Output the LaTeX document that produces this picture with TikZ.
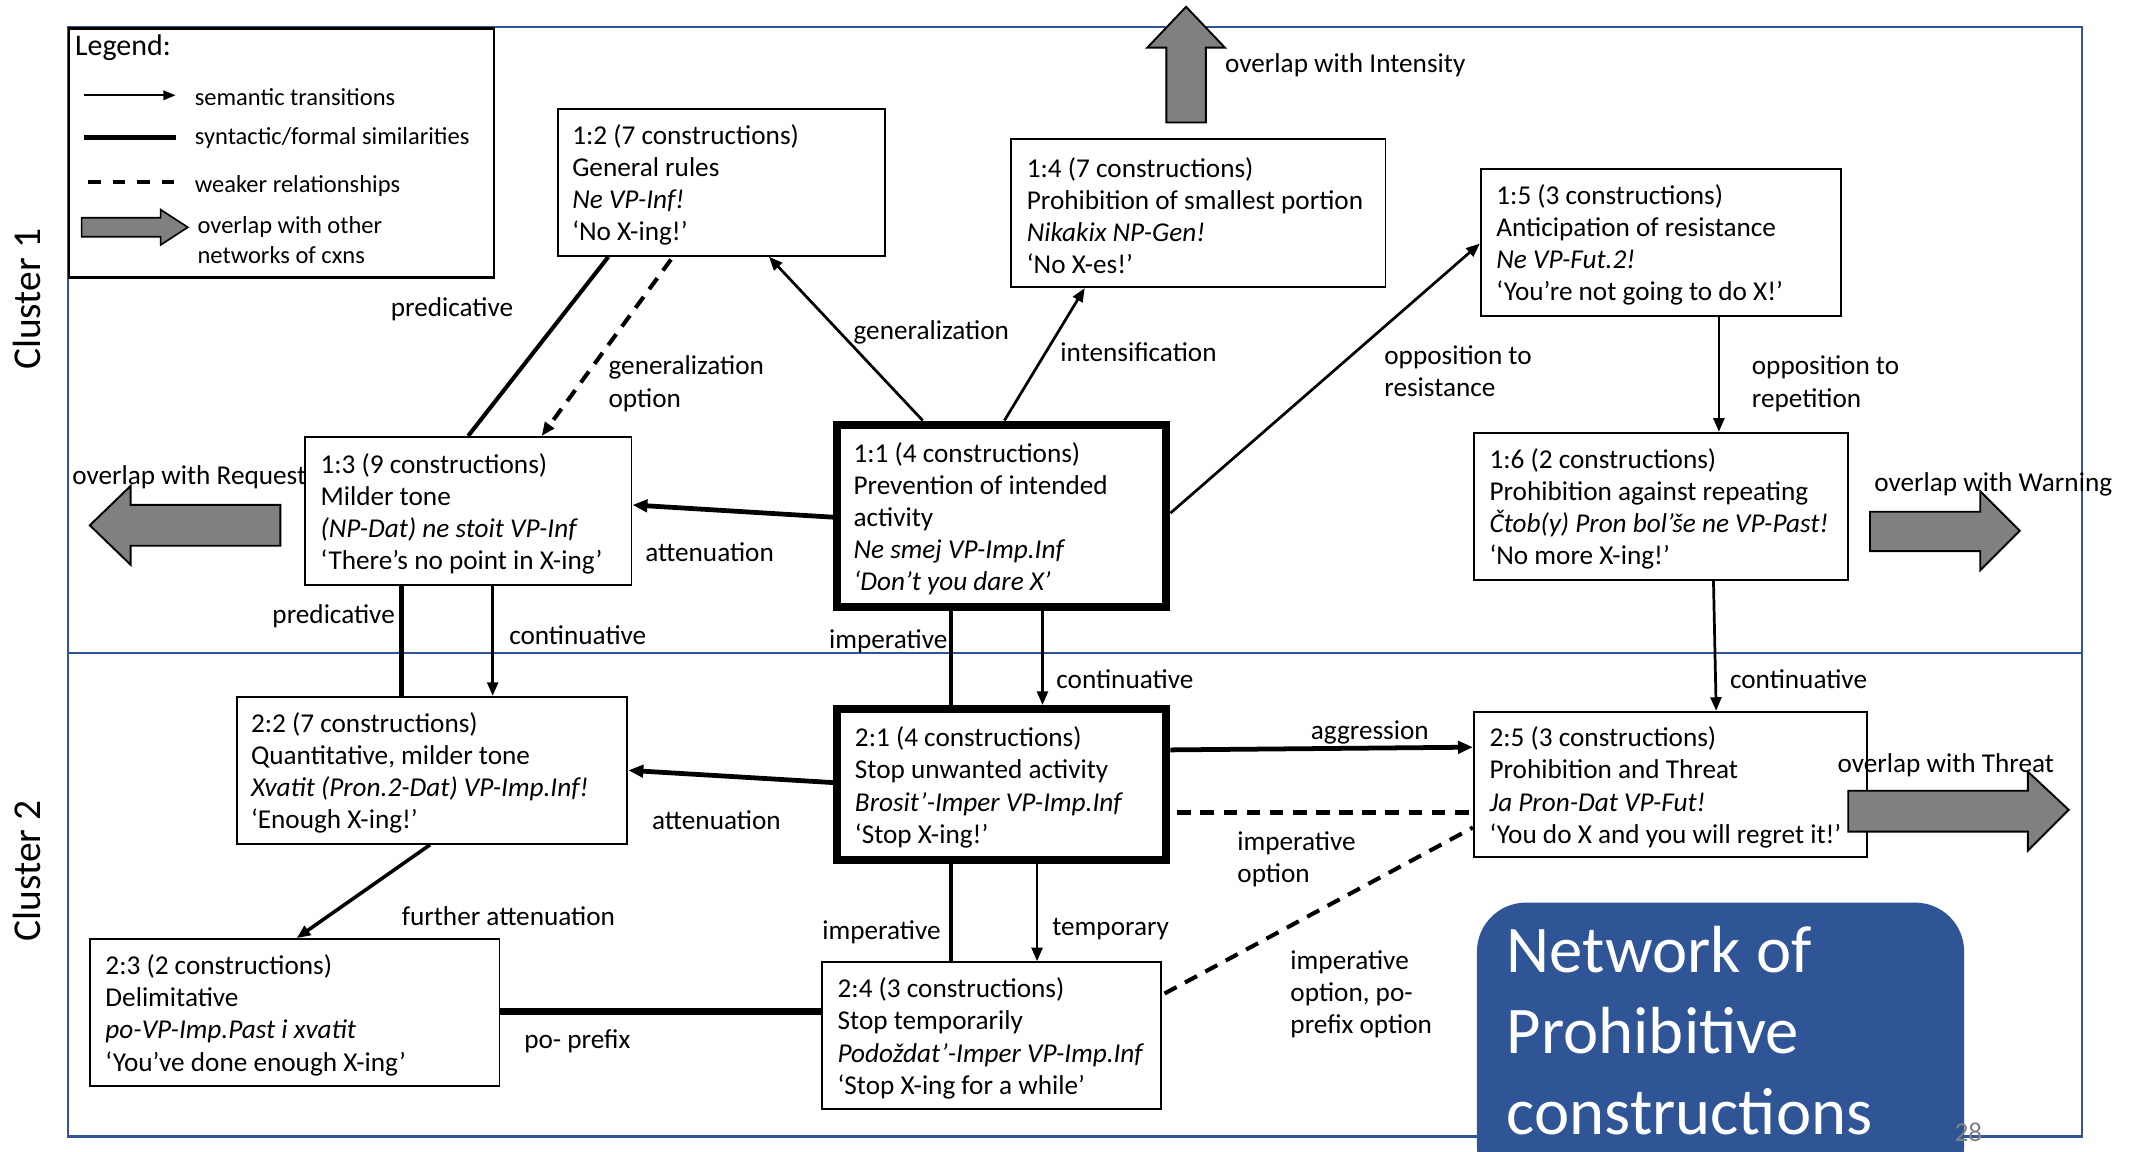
\documentclass[tikz,border=0pt]{standalone}
\usepackage{fontspec}
\setmainfont{Carlito}
\usetikzlibrary{arrows.meta,calc}
\definecolor{frameblue}{RGB}{47,85,151}
\definecolor{arrgray}{RGB}{128,128,128}
\definecolor{numgray}{RGB}{130,130,130}
\begin{document}
\begin{tikzpicture}[x=1pt,y=-1pt,
  cbox/.style={draw, line width=1.4pt, fill=white, inner sep=0pt},
  thickbox/.style={cbox, line width=6pt},
  btext/.style={anchor=west, align=left, inner sep=0pt, yshift=-2pt, font=\fontsize{20}{23.6}\selectfont},
  sem/.style={line width=2pt, -{Triangle[length=10pt,width=8pt]}},
  semth/.style={line width=3.5pt, -{Triangle[length=11pt,width=9pt]}},
  syn/.style={line width=3pt},
  weak/.style={line width=3pt, dash pattern=on 10pt off 7pt},
  lbl/.style={anchor=west, align=left, inner sep=0pt, yshift=-2pt, font=\fontsize{20}{23.6}\selectfont},
  leg/.style={anchor=west, align=left, inner sep=0pt, yshift=-1.5pt, font=\fontsize{18}{22}\selectfont},
  blockarrow/.style={draw, line width=1.4pt, fill=arrgray, line join=miter},
]
\useasboundingbox (0,0) rectangle (1568,846);
\fill[white] (0,0) rectangle (1568,846);

% frame
\draw[frameblue, line width=1.6pt] (50,20) rectangle (1530,835);
\draw[frameblue, line width=1.6pt] (50,480) -- (1530,480);

% cluster labels
\node[rotate=90, font=\fontsize{29}{31}\selectfont, inner sep=0pt] (cl1) at (20,220) {Cluster 1};
\node[rotate=90, font=\fontsize{29}{31}\selectfont, inner sep=0pt] (cl2) at (20,640) {Cluster 2};

% legend
\node[draw, line width=1.8pt, fill=white, minimum width=312pt, minimum height=183pt, anchor=north west, inner sep=0pt] (legend) at (50,20) {};
\node[anchor=west, inner sep=0pt, yshift=-2pt, font=\fontsize{22}{26}\selectfont] (legtitle) at (55,33) {Legend:};
\coordinate (la1) at (62,70); \coordinate (lb1) at (129,70);
\draw[line width=1.5pt, -{Triangle[length=9pt,width=7pt]}] (la1) -- (lb1);
\node[leg] (lt1) at (143,70) {semantic transitions};
\coordinate (la2) at (62,101); \coordinate (lb2) at (129,101);
\draw[line width=3pt] (la2) -- (lb2);
\node[leg] (lt2) at (143,100) {syntactic/formal similarities};
\coordinate (la3) at (65,134); \coordinate (lb3) at (129,134);
\draw[line width=3pt, dash pattern=on 9pt off 9pt] (la3) -- (lb3);
\node[leg] (lt3) at (143,135) {weaker relationships};
\draw[blockarrow, line width=1.2pt] (60,160) -- (118,160) -- (118,154) -- (138,167) -- (118,180) -- (118,174) -- (60,174) -- cycle;
\node[leg] (lt4) at (145,175) {overlap with other\\networks of cxns};

% boxes
\node[cbox, minimum width=240pt, minimum height=108pt] (b12) at (530,134) {};
\node[btext] (b12t) at ([xshift=11pt]b12.west) {1:2 (7 constructions)\\General rules\\\textit{Ne VP-Inf!}\\‘No X-ing!’};
\node[cbox, minimum width=275pt, minimum height=109pt] (b14) at (880.5,156.5) {};
\node[btext] (b14t) at ([xshift=12pt]b14.west) {1:4 (7 constructions)\\Prohibition of smallest portion\\\textit{Nikakix NP-Gen!}\\‘No X-es!’};
\node[cbox, minimum width=265pt, minimum height=108pt] (b15) at (1220.5,178) {};
\node[btext] (b15t) at ([xshift=12pt]b15.west) {1:5 (3 constructions)\\Anticipation of resistance\\\textit{Ne VP-Fut.2!}\\‘You’re not going to do X!’};
\node[cbox, minimum width=240pt, minimum height=109pt] (b13) at (344,375.5) {};
\node[btext] (b13t) at ([xshift=12pt]b13.west) {1:3 (9 constructions)\\Milder tone\\\textit{(NP-Dat) ne stoit VP-Inf}\\‘There’s no point in X-ing’};
\node[thickbox, minimum width=242pt, minimum height=134pt] (b11) at (736,379) {};
\node[btext] (b11t) at ([xshift=15pt]b11.west) {1:1 (4 constructions)\\Prevention of intended\\activity\\\textit{Ne smej VP-Imp.Inf}\\\textit{‘Don’t you dare X’}};
\node[cbox, minimum width=275pt, minimum height=108pt] (b16) at (1220.5,372) {};
\node[btext] (b16t) at ([xshift=12pt]b16.west) {1:6 (2 constructions)\\Prohibition against repeating\\\textit{Čtob(y) Pron bol’še ne VP-Past!}\\‘No more X-ing!’};
\node[cbox, minimum width=287pt, minimum height=108pt] (b22) at (317.5,566) {};
\node[btext] (b22t) at ([xshift=11pt]b22.west) {2:2 (7 constructions)\\Quantitative, milder tone\\\textit{Xvatit (Pron.2-Dat) VP-Imp.Inf!}\\‘Enough X-ing!’};
\node[thickbox, minimum width=242pt, minimum height=111pt] (b21) at (736,576.5) {};
\node[btext] (b21t) at ([xshift=16pt]b21.west) {2:1 (4 constructions)\\Stop unwanted activity\\\textit{Brosit’-Imper VP-Imp.Inf}\\‘Stop X-ing!’};
\node[cbox, minimum width=289pt, minimum height=107pt] (b25) at (1227.5,576.5) {};
\node[btext] (b25t) at ([xshift=12pt]b25.west) {2:5 (3 constructions)\\Prohibition and Threat\\\textit{Ja Pron-Dat VP-Fut!}\\‘You do X and you will regret it!’};
\node[cbox, minimum width=301pt, minimum height=108pt] (b23) at (216.5,744) {};
\node[btext] (b23t) at ([xshift=12pt]b23.west) {2:3 (2 constructions)\\Delimitative\\\textit{po-VP-Imp.Past i xvatit}\\‘You’ve done enough X-ing’};
\node[cbox, minimum width=249pt, minimum height=108pt] (b24) at (728.5,761) {};
\node[btext] (b24t) at ([xshift=12pt]b24.west) {2:4 (3 constructions)\\Stop temporarily\\\textit{Podoždat’-Imper VP-Imp.Inf}\\‘Stop X-ing for a while’};

% connectors
\draw[syn] (b13.north) -- ([xshift=-83pt]b12.south);
\draw[weak, -{Triangle[length=10pt,width=8pt]}] ([xshift=-37pt,yshift=-2pt]b12.south) -- ([xshift=54pt]b13.north);
\draw[sem] ([xshift=-58pt]b11.north) -- ([xshift=35pt]b12.south);
\draw[sem] ([xshift=2pt]b11.north) -- ([xshift=-83.5pt]b14.south);
\draw[sem] ([yshift=2pt]b11.east) -- ([yshift=-1pt]b15.west);
\draw[sem] ([xshift=42.5pt]b15.south) -- ([xshift=42.5pt]b16.north);
\draw[semth] ([yshift=-1pt]b11.west) -- ([yshift=4.5pt]b13.east);
\draw[syn] ([xshift=-49pt]b13.south) -- ([xshift=-22.5pt]b22.north);
\draw[sem] ([xshift=18pt]b13.south) -- ([xshift=44.5pt]b22.north);
\draw[syn] ([xshift=-37pt]b11.south) -- ([xshift=-37pt]b21.north);
\draw[sem] ([xshift=30pt]b11.south) -- ([xshift=30pt]b21.north);
\draw[sem] ([xshift=38.5pt]b16.south) -- ([xshift=33.5pt]b25.north);
\draw[semth] ([yshift=1.5pt]b21.west) -- (b22.east);
\draw[semth] ([yshift=25.5pt]b21.east) -- ([yshift=27.5pt]b25.west);
\draw[weak, line width=4pt] ([xshift=5pt,yshift=-20.5pt]b21.east) -- ([yshift=-20.5pt]b25.west);
\draw[sem, line width=2.6pt] ([xshift=-1.5pt]b22.south) -- ([xshift=1.5pt]b23.north);
\draw[syn] ([xshift=-37pt]b21.south) -- ([xshift=-29.5pt]b24.north);
\draw[sem] ([xshift=26pt]b21.south) -- ([xshift=33.5pt]b24.north);
\draw[line width=5pt] ([yshift=1pt]b23.east) -- ([yshift=18pt]b24.west);
\draw[weak] ([xshift=2pt,yshift=31pt]b24.east) -- ([yshift=-31.5pt]b25.west);

% connector labels
\node[lbl] (t1) at (287,225) {predicative};
\node[lbl] (t2) at (447,280) {generalization\\option};
\node[lbl] (t3) at (627,242) {generalization};
\node[lbl] (t4) at (779,257) {intensification};
\node[lbl] (t5) at (1017,270.5) {opposition to\\resistance};
\node[lbl] (t6) at (1287,280) {opposition to\\repetition};
\node[lbl] (t7) at (474,404) {attenuation};
\node[lbl] (t8) at (200,451) {predicative};
\node[lbl] (t9) at (374,465) {continuative};
\node[lbl] (t10) at (609,469) {imperative};
\node[lbl] (t11) at (776,497) {continuative};
\node[lbl] (t12) at (1271,497) {continuative};
\node[lbl] (t13) at (479,601) {attenuation};
\node[lbl] (t14) at (963,536) {aggression};
\node[lbl] (t15) at (909,629.5) {imperative\\option};
\node[lbl] (t16) at (295,671) {further attenuation};
\node[lbl] (t17) at (604,683) {imperative};
\node[lbl] (t18) at (773,681) {temporary};
\node[lbl] (t19) at (385,763) {po- prefix};
\node[lbl] (t20) at (948,728.5) {imperative\\option, po-\\prefix option};

% overlap arrows
\draw[blockarrow] (857,90) -- (857,35) -- (843,35) -- (871.5,5) -- (900,35) -- (886,35) -- (886,90) -- cycle;
\node[lbl] (o1) at (900,46) {overlap with Intensity};
\draw[blockarrow] (206,371) -- (96,371) -- (96,357) -- (66,386) -- (96,415) -- (96,401) -- (206,401) -- cycle;
\node[lbl] (o2) at (53,349) {overlap with Request};
\draw[blockarrow] (1374,376) -- (1455,376) -- (1455,361) -- (1484,390) -- (1455,419) -- (1455,405) -- (1374,405) -- cycle;
\node[lbl] (o3) at (1377,354) {overlap with Warning};
\draw[blockarrow] (1358,581) -- (1490,581) -- (1490,567) -- (1520,595) -- (1490,625) -- (1490,611) -- (1358,611) -- cycle;
\node[lbl] (o4) at (1350,560) {overlap with Threat};

% title
\node[fill=frameblue, rounded corners=36pt, minimum width=358pt, minimum height=215pt, anchor=north west, inner sep=0pt] (titlebox) at (1085,663) {};
\node[anchor=west, align=left, inner sep=0pt, text=white, font=\fontsize{49}{59.5}\selectfont] (titletext) at (1107,757) {Network of\\Prohibitive\\constructions};
\node[anchor=west, inner sep=0pt, text=numgray, font=\fontsize{20}{22}\selectfont] (pagenum) at (1436,832) {28};
\end{tikzpicture}
\end{document}
